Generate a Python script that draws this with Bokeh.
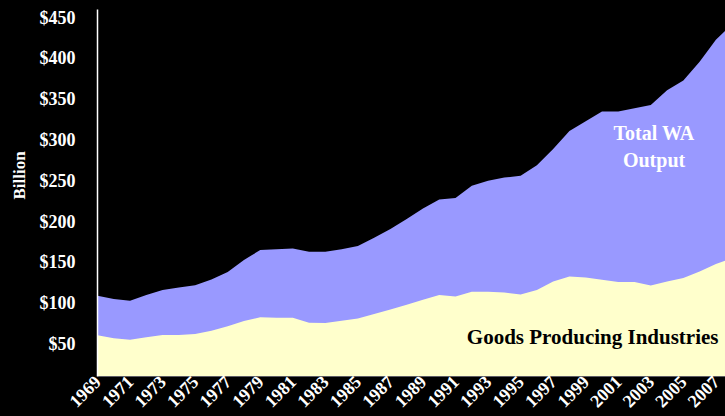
import math
from bokeh.plotting import figure
from bokeh.models import Range1d, LinearAxis, FixedTicker, PrintfTickFormatter, Label, Title
from bokeh.embed import file_html
from bokeh.resources import INLINE

years = list(range(1969, 2009))
total_output = [99, 95, 93, 100, 106, 109, 112, 119, 128, 143,
                155, 156, 157, 153, 153, 156, 160, 170, 181, 193,
                206, 217, 219, 234, 240, 244, 246, 259, 279, 301,
                313, 325, 325, 329, 333, 351, 363, 386, 413, 432]
goods_producing = [50.5, 47, 45, 48, 51, 51, 52, 56, 61.5, 68,
                   72.5, 72, 72, 66, 65.5, 68.5, 71, 76.5, 82, 88,
                   94, 100, 98, 104, 104, 103, 100.6, 106, 116.5, 122.6,
                   121.4, 118.6, 116, 116, 111.6, 116.5, 120.7, 128.8, 137.8, 145]
x_tick_years = list(range(1969, 2008, 2))
y_ticks = [50, 100, 150, 200, 250, 300, 350, 400, 450]

FONT = "Liberation Serif"

p = figure(width=725, height=416, output_backend="svg", toolbar_location=None,
           x_range=Range1d(1969, 2007.59), y_range=Range1d(0, 450),
           background_fill_color="black", border_fill_color="black",
           outline_line_color=None, min_border_left=96, min_border_right=0,
           min_border_top=9, min_border_bottom=30, y_axis_location=None)
p.grid.visible = False

p.varea(x=years, y1=0, y2=total_output, fill_color="#9999FF")
p.varea(x=years, y1=0, y2=goods_producing, fill_color="#FFFFCC")

# x axis
xa = p.xaxis[0]
xa.ticker = FixedTicker(ticks=x_tick_years)
xa.major_label_orientation = math.pi / 4
xa.major_label_text_font = FONT
xa.major_label_text_font_style = "bold"
xa.major_label_text_font_size = "18px"
xa.major_label_text_color = "white"
xa.axis_line_color = None
xa.major_tick_line_color = None
xa.minor_tick_line_color = None
xa.major_tick_out = 0
xa.major_label_standoff = 2

# y axis (labels sit slightly below their ticks, as in the original)
p.extra_y_ranges = {"lab": Range1d(10, 460)}
ya = LinearAxis(y_range_name="lab", ticker=FixedTicker(ticks=y_ticks),
                formatter=PrintfTickFormatter(format="$%d"))
ya.major_label_text_font = FONT
ya.major_label_text_font_style = "bold"
ya.major_label_text_font_size = "18px"
ya.major_label_text_color = "white"
ya.axis_line_color = "white"
ya.axis_line_width = 1.5
ya.major_tick_line_color = None
ya.minor_tick_line_color = None
ya.major_tick_out = 0
ya.major_label_standoff = 22
p.add_layout(ya, "left")

p.add_layout(Title(text="Billion", align="left", offset=177, text_color="white",
                   text_font=FONT, text_font_style="bold", text_font_size="17px",
                   standoff=15), "left")

p.add_layout(Label(x=2003.2, y=299, text="Total WA", text_align="center",
                   text_baseline="middle", text_color="white", text_font=FONT,
                   text_font_style="bold", text_font_size="20px"))
p.add_layout(Label(x=2003.2, y=266, text="Output", text_align="center",
                   text_baseline="middle", text_color="white", text_font=FONT,
                   text_font_style="bold", text_font_size="20px"))
p.add_layout(Label(x=2007.16, y=49, text="Goods Producing Industries", text_align="right",
                   text_baseline="middle", text_color="black", text_font=FONT,
                   text_font_style="bold", text_font_size="21px"))

html = file_html(p, INLINE)
html = html.replace("<head>", "<head><style>html,body{background:#000;}</style>", 1)
open("out.html", "w").write(html)
